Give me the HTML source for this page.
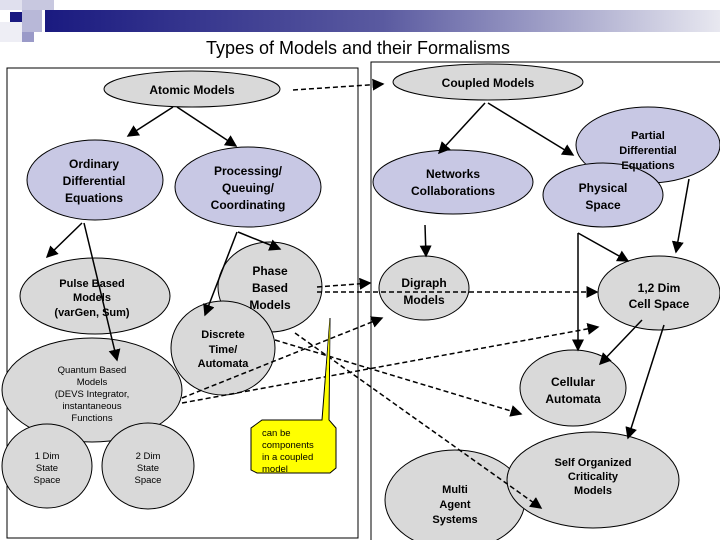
<!DOCTYPE html>
<html><head><meta charset="utf-8"><style>
body{margin:0;width:720px;height:540px;overflow:hidden;background:#fff}
svg{display:block}
text{font-family:"Liberation Sans",Arial,sans-serif;font-weight:bold;font-size:12px;fill:#000}
.s{font-weight:normal;font-size:9.5px}
</style></head><body>
<svg width="720" height="540" viewBox="0 0 720 540">
<defs>
<linearGradient id="g" x1="0" x2="1"><stop offset="0" stop-color="#1a1a80"/><stop offset="0.5" stop-color="#5a5aa0"/><stop offset="1" stop-color="#e8e8f0"/></linearGradient>
<marker id="a" markerWidth="8" markerHeight="8" refX="7" refY="4" orient="auto"><path d="M0,0 L8,4 L0,8z" fill="#000"/></marker>
</defs>
<rect x="45" y="10" width="675" height="22" fill="url(#g)"/>
<rect x="0" y="0" width="22" height="10" fill="#e0e0ee"/>
<rect x="22" y="0" width="32" height="10" fill="#c8c8e0"/>
<rect x="10" y="12" width="12" height="10" fill="#1a1a80"/>
<rect x="22" y="10" width="20" height="22" fill="#b8b8d8"/>
<rect x="22" y="32" width="12" height="10" fill="#9a9ac8"/>
<rect x="0" y="22" width="22" height="20" fill="#eeeef5"/>
<text x="358" y="54" text-anchor="middle" style="font-weight:normal;font-size:18px">Types of Models and their Formalisms</text>
<rect x="7" y="68" width="351" height="470" fill="none" stroke="#000" stroke-width="1"/>
<rect x="371" y="62" width="352" height="480" fill="none" stroke="#000" stroke-width="1"/>

<g stroke="#000" stroke-width="1">
<ellipse cx="192" cy="89" rx="88" ry="18" fill="#d9d9d9"/>
<ellipse cx="488" cy="82" rx="95" ry="18" fill="#d9d9d9"/>
<ellipse cx="95" cy="180" rx="68" ry="40" fill="#c8c8e4"/>
<ellipse cx="248" cy="187" rx="73" ry="40" fill="#c8c8e4"/>
<ellipse cx="95" cy="296" rx="75" ry="38" fill="#d9d9d9"/>
<ellipse cx="270" cy="287" rx="52" ry="45" fill="#d9d9d9"/>
<ellipse cx="223" cy="348" rx="52" ry="47" fill="#d9d9d9"/>
<ellipse cx="92" cy="390" rx="90" ry="52" fill="#d9d9d9"/>
<ellipse cx="47" cy="466" rx="45" ry="42" fill="#d9d9d9"/>
<ellipse cx="148" cy="466" rx="46" ry="43" fill="#d9d9d9"/>
<ellipse cx="453" cy="182" rx="80" ry="32" fill="#c8c8e4"/>
<ellipse cx="648" cy="145" rx="72" ry="38" fill="#c8c8e4"/>
<ellipse cx="603" cy="195" rx="60" ry="32" fill="#c8c8e4"/>
<ellipse cx="424" cy="288" rx="45" ry="32" fill="#d9d9d9"/>
<ellipse cx="659" cy="293" rx="61" ry="37" fill="#d9d9d9"/>
<ellipse cx="573" cy="388" rx="53" ry="38" fill="#d9d9d9"/>
<ellipse cx="455" cy="500" rx="70" ry="50" fill="#d9d9d9"/>
<ellipse cx="593" cy="480" rx="86" ry="48" fill="#d9d9d9"/>
</g>

<g stroke="#000" stroke-width="1.5" fill="none" marker-end="url(#a)">
<line x1="173" y1="107" x2="128" y2="136"/>
<line x1="177" y1="107" x2="236" y2="146"/>
<line x1="82" y1="223" x2="47" y2="257"/>
<line x1="84" y1="223" x2="117" y2="360"/>
<line x1="238" y1="232" x2="280" y2="249"/>
<polyline points="237,232 205,315"/>
<line x1="485" y1="103" x2="439" y2="153"/>
<line x1="488" y1="103" x2="573" y2="155"/>
<line x1="425" y1="225" x2="426" y2="256"/>
<line x1="689" y1="179" x2="676" y2="252"/>
<polyline points="578,233 578,350" />
<line x1="578" y1="233" x2="628" y2="261"/>
<line x1="642" y1="320" x2="600" y2="364"/>
<line x1="664" y1="325" x2="628" y2="438"/>
</g>
<g stroke="#000" stroke-width="1.5" fill="none" stroke-dasharray="5,3" marker-end="url(#a)">
<line x1="293" y1="90" x2="383" y2="84"/>
<line x1="317" y1="287" x2="370" y2="283"/>
<line x1="317" y1="292" x2="597" y2="292"/>
<line x1="275" y1="340" x2="521" y2="414"/>
<line x1="295" y1="333" x2="541" y2="508"/>
<line x1="182" y1="398" x2="382" y2="318"/>
<line x1="182" y1="403" x2="598" y2="327"/>
</g>
<polygon points="330,318 322,420 262,420 251,428 251,470 257,473 330,473 336,468 336,428 329,420" fill="#ffff00" stroke="#000"/>
<polygon points="330,318 323,421 328,421" fill="#ffff00"/>

<g text-anchor="middle">
<text x="192" y="94">Atomic Models</text>
<text x="488" y="87">Coupled Models</text>
<text x="94" y="168">Ordinary</text><text x="94" y="185">Differential</text><text x="94" y="202">Equations</text>
<text x="248" y="175">Processing/</text><text x="248" y="192">Queuing/</text><text x="248" y="209">Coordinating</text>
<text x="92" y="287" style="font-size:11px">Pulse Based</text><text x="92" y="301" style="font-size:11px">Models</text><text x="92" y="316" style="font-size:11px">(varGen, Sum)</text>
<text x="270" y="275">Phase</text><text x="270" y="292">Based</text><text x="270" y="309">Models</text>
<text x="223" y="338" style="font-size:11px">Discrete</text><text x="223" y="353" style="font-size:11px">Time/</text><text x="223" y="367" style="font-size:11px">Automata</text>
<text class="s" x="92" y="373">Quantum Based</text><text class="s" x="92" y="385">Models</text><text class="s" x="92" y="397">(DEVS Integrator,</text><text class="s" x="92" y="409">instantaneous</text><text class="s" x="92" y="421">Functions</text>
<text class="s" x="47" y="459">1 Dim</text><text class="s" x="47" y="471">State</text><text class="s" x="47" y="483">Space</text>
<text class="s" x="148" y="459">2 Dim</text><text class="s" x="148" y="471">State</text><text class="s" x="148" y="483">Space</text>
<text x="453" y="178">Networks</text><text x="453" y="195">Collaborations</text>
<text x="648" y="139" style="font-size:11px">Partial</text><text x="648" y="154" style="font-size:11px">Differential</text><text x="648" y="169" style="font-size:11px">Equations</text>
<text x="603" y="192">Physical</text><text x="603" y="209">Space</text>
<text x="424" y="287">Digraph</text><text x="424" y="304">Models</text>
<text x="659" y="292">1,2  Dim</text><text x="659" y="308">Cell Space</text>
<text x="573" y="386">Cellular</text><text x="573" y="403">Automata</text>
<text x="593" y="466" style="font-size:11px">Self Organized</text><text x="593" y="480" style="font-size:11px">Criticality</text><text x="593" y="494" style="font-size:11px">Models</text>
<text x="455" y="493" style="font-size:11px">Multi</text><text x="455" y="508" style="font-size:11px">Agent</text><text x="455" y="523" style="font-size:11px">Systems</text>
</g>
<text class="s" x="262" y="436">can be</text><text class="s" x="262" y="448">components</text><text class="s" x="262" y="460"> in a coupled</text><text class="s" x="262" y="472">model</text>
</svg>
</body></html>
